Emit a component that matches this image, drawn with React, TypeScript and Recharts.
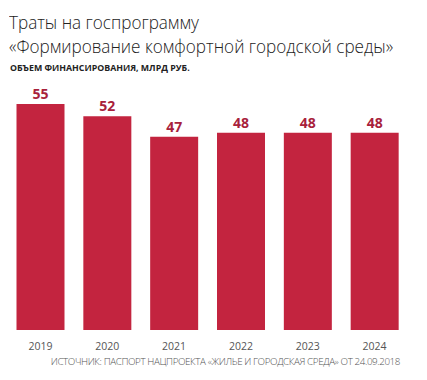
import React from 'react';
import { BarChart, Bar, XAxis, YAxis, LabelList } from 'recharts';

const years = ['2019', '2020', '2021', '2022', '2023', '2024'];
const spending = [55, 52, 47, 48, 48, 48];

const data = years.map((y, i) => ({ year: y, value: spending[i] }));

const font = '"Open Sans", "Noto Sans", sans-serif';

const titleStyle: React.CSSProperties = {
  position: 'absolute', left: 9, fontSize: 19, fontWeight: 300, lineHeight: '22px', color: '#222',
  whiteSpace: 'nowrap', transform: 'scaleX(0.9)', transformOrigin: 'left top',
};

export default function App() {
  return (
    <div style={{ position: 'absolute', left: 0, top: 0, width: 427, height: 380, background: '#fff', fontFamily: font }}>
      <div style={{ ...titleStyle, top: 11 }}>Траты на госпрограмму</div>
      <div style={{ ...titleStyle, top: 35 }}>«Формирование комфортной городской среды»</div>
      <div style={{ position: 'absolute', left: 10, top: 62, fontSize: 8.8, fontWeight: 700, color: '#222', whiteSpace: 'nowrap' }}>
        ОБЪЕМ ФИНАНСИРОВАНИЯ, МЛРД РУБ.
      </div>
      <BarChart width={427} height={380} data={data} margin={{ top: 104, right: 19, bottom: 38, left: 7 }} barCategoryGap={9.5}>
        <YAxis hide domain={[0, 55]} />
        <XAxis dataKey="year" height={12} axisLine={false} tickLine={false} tick={{ fill: '#555', fontSize: 10.5, fontFamily: font }} tickMargin={7} />
        <Bar dataKey="value" fill="#c3243f" isAnimationActive={false}>
          <LabelList dataKey="value" position="top" offset={5} fill="#a8213b" fontSize={14} fontWeight={700} fontFamily={font} />
        </Bar>
      </BarChart>
      <div style={{ position: 'absolute', right: 27, top: 355, fontSize: 9.8, fontWeight: 300, color: '#555', whiteSpace: 'nowrap', letterSpacing: -0.4 }}>
        ИСТОЧНИК: ПАСПОРТ НАЦПРОЕКТА «ЖИЛЬЕ И ГОРОДСКАЯ СРЕДА» ОТ 24.09.2018
      </div>
    </div>
  );
}
